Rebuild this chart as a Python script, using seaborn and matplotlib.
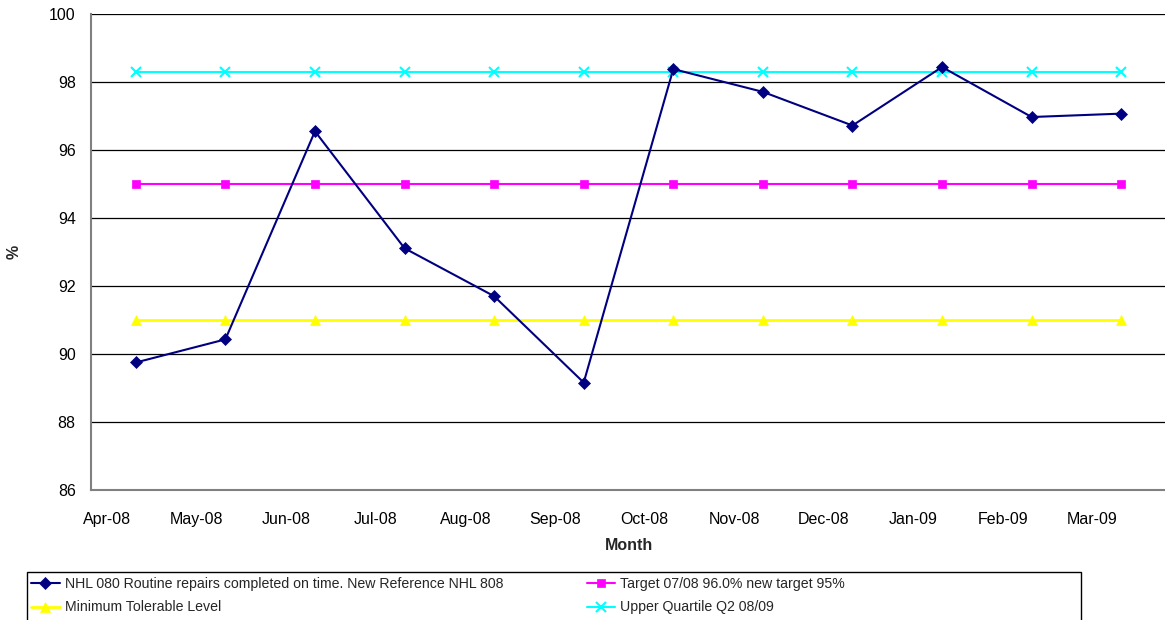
import numpy as np
import pandas as pd
import matplotlib
matplotlib.use("Agg")
import matplotlib.pyplot as plt
import matplotlib.patches as mpatches
import seaborn as sns

months = ["Apr-08", "May-08", "Jun-08", "Jul-08", "Aug-08", "Sep-08",
          "Oct-08", "Nov-08", "Dec-08", "Jan-09", "Feb-09", "Mar-09"]
repairs_on_time = [89.75, 90.43, 96.55, 93.11, 91.70, 89.16,
                   98.38, 97.71, 96.72, 98.44, 96.97, 97.07]
target = [95.0] * 12
minimum_tolerable = [91.0] * 12
upper_quartile = [98.3] * 12

series_names = ["NHL 080 Routine repairs completed on time. New Reference NHL 808",
                "Target 07/08 96.0% new target 95%",
                "Minimum Tolerable Level",
                "Upper Quartile Q2 08/09"]

sns.set_style("white")
plt.rcParams["font.family"] = ["Liberation Sans", "DejaVu Sans"]

W, H, DPI = 1165, 620, 100
fig = plt.figure(figsize=(W / DPI, H / DPI), dpi=DPI)
ax = fig.add_axes([91 / W, 1 - 490 / H, (1166 - 91) / W, (490 - 14) / H])

x = np.arange(len(months))
df = pd.DataFrame({"pos": x, "repairs": repairs_on_time, "target": target,
                   "minimum": minimum_tolerable, "upper": upper_quartile})

styles = [
    ("repairs", "#000080", "D", 6, 1.5, series_names[0]),
    ("target", "#FF00FF", "s", 6, 1.5, series_names[1]),
    ("minimum", "#FFFF00", "^", 7.5, 2.0, series_names[2]),
    ("upper", "#00FFFF", "x", 7, 1.5, series_names[3]),
]
# flat reference lines first, the monthly series on top
for col, color, marker, ms, lw, name in styles[1:] + styles[:1]:
    sns.lineplot(data=df, x="pos", y=col, ax=ax, color=color, marker=marker,
                 markersize=ms, linewidth=lw, markeredgecolor=color,
                 markeredgewidth=1.5 if marker == "x" else 0.5,
                 label=name, legend=False, zorder=3 if col == "repairs" else 2)

ax.set_xlim(-0.5, 11.5)
ax.set_ylim(86, 100)
ax.set_yticks(np.arange(86, 101, 2))
ax.yaxis.grid(True, color="black", linewidth=0.9)
ax.set_axisbelow(True)

# tick marks at month boundaries, month names just to the right of each mark
ax.set_xticks(x - 0.5)
ax.set_xticklabels([])
ax.set_xticks(x - 0.5 + 0.18, minor=True)
ax.set_xticklabels(months, minor=True)

for side in ["top", "right"]:
    ax.spines[side].set_visible(False)
for side in ["left", "bottom"]:
    ax.spines[side].set_color("#808080")
    ax.spines[side].set_linewidth(1.5)

ax.tick_params(axis="both", which="major", direction="out", length=5, width=1,
               color="#404040", labelsize=11.5, labelcolor="black")
ax.tick_params(axis="x", which="minor", length=0, pad=15.5,
               labelsize=11.5, labelcolor="black")
ax.tick_params(axis="y", pad=6)

ax.set_xlabel("Month", fontsize=11.5, fontweight="bold", labelpad=8)
ax.set_ylabel("%", fontsize=11.5, fontweight="bold")
ax.yaxis.set_label_coords((22 - 91) / (1166 - 91), 0.5)

# legend in two columns below the plot, framed by a plain rectangle
handles, labels = ax.get_legend_handles_labels()
hmap = dict(zip(labels, handles))
leg_order = [series_names[0], series_names[2], series_names[1], series_names[3]]
fig.legend([hmap[n] for n in leg_order], leg_order, loc="upper left", ncol=2,
           bbox_to_anchor=(27 / W, 1 - 573 / H), frameon=False,
           fontsize=10.2, handlelength=2.0, handletextpad=0.35,
           columnspacing=5.9, labelspacing=0.65, borderpad=0.3,
           borderaxespad=0)
fig.patches.append(mpatches.Rectangle((27 / W, -0.05), (1081 - 27) / W,
                                      (1 - 572 / H) + 0.05,
                                      transform=fig.transFigure, fill=False,
                                      edgecolor="black", linewidth=1))

fig.savefig("out.png", dpi=DPI, facecolor="white")
